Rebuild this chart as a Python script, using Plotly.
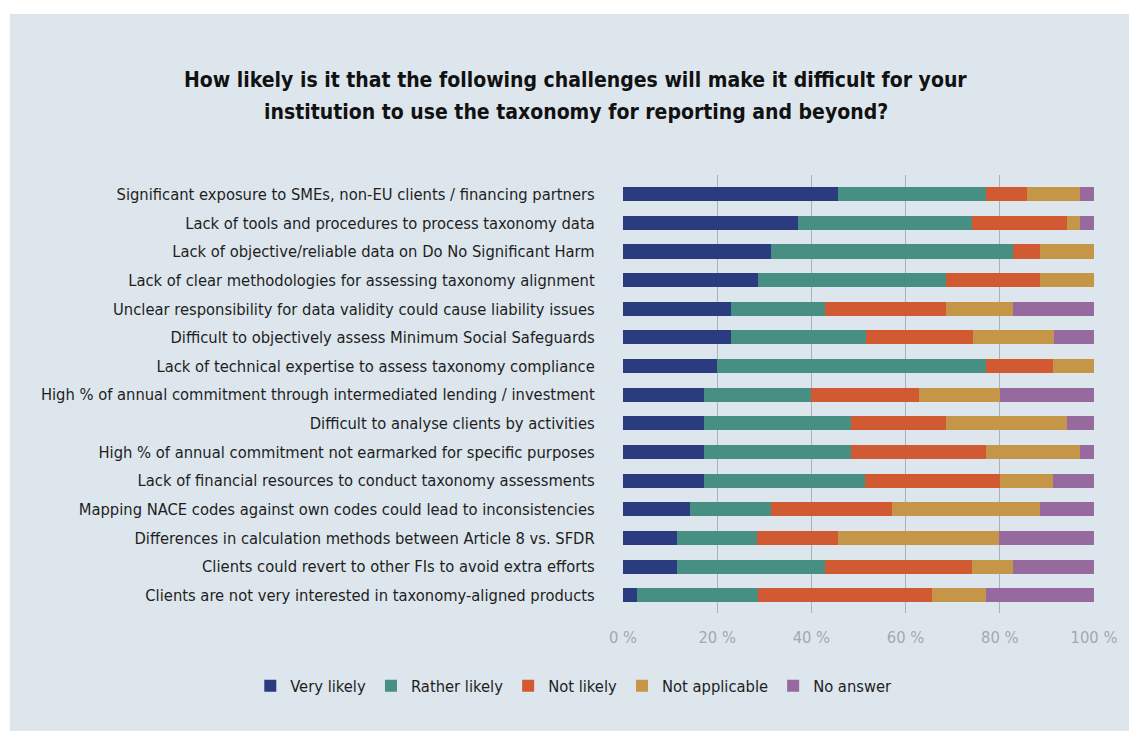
import plotly.graph_objects as go

# Challenges, listed top to bottom
challenges = [
    "Significant exposure to SMEs, non-EU clients / financing partners",
    "Lack of tools and procedures to process taxonomy data",
    "Lack of objective/reliable data on Do No Significant Harm",
    "Lack of clear methodologies for assessing taxonomy alignment",
    "Unclear responsibility for data validity could cause liability issues",
    "Difficult to objectively assess Minimum Social Safeguards",
    "Lack of technical expertise to assess taxonomy compliance",
    "High % of annual commitment through intermediated lending / investment",
    "Difficult to analyse clients by activities",
    "High % of annual commitment not earmarked for specific purposes",
    "Lack of financial resources to conduct taxonomy assessments",
    "Mapping NACE codes against own codes could lead to inconsistencies",
    "Differences in calculation methods between Article 8 vs. SFDR",
    "Clients could revert to other FIs to avoid extra efforts",
    "Clients are not very interested in taxonomy-aligned products",
]

# Share of respondents (%) per answer
very_likely = [45.7, 37.1, 31.4, 28.6, 22.9, 22.9, 20.0, 17.1, 17.1, 17.1, 17.1, 14.3, 11.4, 11.4, 2.9]
rather_likely = [31.4, 37.1, 51.4, 40.0, 20.0, 28.6, 57.1, 22.9, 31.4, 31.4, 34.3, 17.1, 17.1, 31.4, 25.7]
not_likely = [8.6, 20.0, 5.7, 20.0, 25.7, 22.9, 14.3, 22.9, 20.0, 28.6, 28.6, 25.7, 17.1, 31.4, 37.1]
not_applicable = [11.4, 2.9, 11.4, 11.4, 14.3, 17.1, 8.6, 17.1, 25.7, 20.0, 11.4, 31.4, 34.3, 8.6, 11.4]
no_answer = [2.9, 2.9, 0.0, 0.0, 17.1, 8.6, 0.0, 20.0, 5.7, 2.9, 8.6, 11.4, 20.0, 17.1, 22.9]

series_names = ["Very likely", "Rather likely", "Not likely", "Not applicable", "No answer"]
series_values = [very_likely, rather_likely, not_likely, not_applicable, no_answer]
series_colors = ["#2a3b80", "#478f83", "#d25a33", "#c59548", "#96699f"]

x_ticks = [0, 20, 40, 60, 80, 100]
x_tick_labels = ["0 %", "20 %", "40 %", "60 %", "80 %", "100 %"]

FONT = "Liberation Sans Narrow, DejaVu Sans Condensed, Roboto, sans-serif"
PANEL = "#dde6ed"
TEXT_SIZE = 16.4

fig = go.Figure()
for name, vals, color in zip(series_names, series_values, series_colors):
    fig.add_trace(go.Bar(
        y=challenges, x=vals, name=name, orientation="h",
        marker=dict(color=color, line=dict(width=0)),
        width=0.49,
    ))

# Plot area geometry (pixels)
W, H = 1129, 731
L, R, T, B = 622.5, 34.5, 175, 118
pw, ph = W - L - R, H - T - B

def px_x(x):
    return (x - L) / pw

def px_y(y):
    return (H - B - y) / ph

fig.add_shape(type="rect", xref="paper", yref="paper", layer="below",
              x0=px_x(8), x1=px_x(W + 2), y0=px_y(H + 2), y1=px_y(14),
              fillcolor=PANEL, line=dict(width=0))

fig.add_annotation(text="How likely is it that the following challenges will make it difficult for your",
                   xref="paper", yref="paper", x=px_x(575), y=px_y(80),
                   xanchor="center", yanchor="middle", showarrow=False,
                   font=dict(family=FONT, size=21, color="#111111", weight="bold"))
fig.add_annotation(text="institution to use the taxonomy for reporting and beyond?",
                   xref="paper", yref="paper", x=px_x(575), y=px_y(112),
                   xanchor="center", yanchor="middle", showarrow=False,
                   font=dict(family=FONT, size=21, color="#111111", weight="bold"))

fig.update_layout(
    width=W, height=H,
    barmode="stack",
    paper_bgcolor="white",
    plot_bgcolor="rgba(0,0,0,0)",
    margin=dict(l=L, r=R, t=T, b=B, pad=0, autoexpand=False),
    font=dict(family=FONT, size=TEXT_SIZE, color="#1e1e1e"),
    showlegend=True,
    legend=dict(orientation="h", x=px_x(249), xanchor="left",
                y=px_y(686), yanchor="middle",
                font=dict(family=FONT, size=TEXT_SIZE, color="#1e1e1e"),
                bgcolor="rgba(0,0,0,0)", itemwidth=30, traceorder="normal"),
    xaxis=dict(range=[0, 100], tickvals=x_ticks, ticktext=x_tick_labels,
               showgrid=True, gridcolor="#a9b1b9", gridwidth=1,
               zeroline=False, showline=False,
               ticks="outside", ticklen=9, tickcolor="rgba(0,0,0,0)",
               tickfont=dict(family=FONT, size=TEXT_SIZE, color="#a2a9b0"),
               fixedrange=True),
    yaxis=dict(categoryorder="array", categoryarray=challenges,
               range=[14.62, -0.67], showgrid=False, zeroline=False,
               ticks="outside", ticklen=24, tickcolor="rgba(0,0,0,0)",
               tickfont=dict(family=FONT, size=TEXT_SIZE, color="#1e1e1e"),
               fixedrange=True),
)

fig.write_html("out.html")
